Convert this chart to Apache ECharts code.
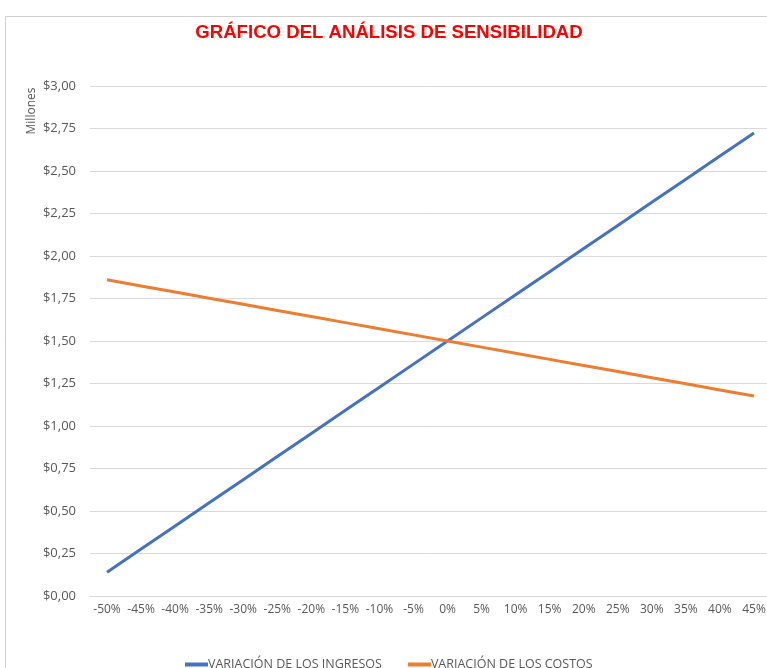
<!DOCTYPE html>
<html>
<head>
<meta charset="utf-8">
<script src="https://cdn.jsdelivr.net/npm/echarts@6/dist/echarts.min.js"></script>
<style>
html,body{margin:0;padding:0;overflow:hidden;background:#fff;}
#chart{width:771px;height:668px;}
</style>
</head>
<body>
<div id="chart"></div>
<script>
const categories = ['-50%','-45%','-40%','-35%','-30%','-25%','-20%','-15%','-10%','-5%','0%','5%','10%','15%','20%','25%','30%','35%','40%','45%'];
const ingresos = [0.140,0.276,0.412,0.548,0.684,0.820,0.956,1.092,1.228,1.364,1.500,1.636,1.772,1.908,2.044,2.180,2.316,2.452,2.588,2.724];
const costos = [1.860,1.824,1.788,1.752,1.716,1.680,1.644,1.608,1.572,1.536,1.500,1.464,1.428,1.392,1.356,1.320,1.284,1.248,1.212,1.176];
const seriesNames = ['VARIACIÓN DE LOS INGRESOS','VARIACIÓN DE LOS COSTOS'];
const titleText = 'GRÁFICO DEL ANÁLISIS DE SENSIBILIDAD';
const unitLabel = 'Millones';

const txtColor = '#595959';
const font = '"Open Sans", sans-serif';
const chart = echarts.init(document.getElementById('chart'));
chart.setOption({
  animation: false,
  backgroundColor: '#fff',
  title: {
    text: titleText,
    left: 384, top: 18, textAlign: 'center',
    textStyle: {color: '#ff0000', fontSize: 18.6, fontWeight: 'bold', fontFamily: '"Liberation Sans Narrow", "Liberation Sans", Arial, sans-serif'}
  },
  graphic: [
    {type: 'rect', shape: {x: 5.5, y: 16.5, width: 900, height: 900}, style: {fill: 'none', stroke: '#d0d0d0', lineWidth: 1}, silent: true, z: -1},
    {type: 'text', x: 32, y: 111, rotation: Math.PI/2, style: {text: unitLabel, fill: txtColor, font: '12px ' + font, align: 'center', verticalAlign: 'middle'}}
  ],
  legend: {
    left: 180, top: 653,
    itemWidth: 23, itemHeight: 4, itemGap: 26,
    icon: 'rect',
    textStyle: {color: txtColor, fontSize: 12.5, fontFamily: font, padding: [0,0,0,-5]},
    data: seriesNames
  },
  grid: {left: 90, right: 0, top: 86, bottom: 72, containLabel: false},
  xAxis: {
    type: 'category', data: categories, boundaryGap: true,
    axisLine: {show: true, lineStyle: {color: '#d9d9d9'}},
    axisTick: {show: false},
    axisLabel: {color: txtColor, fontSize: 12, fontFamily: font, margin: 8, interval: 0}
  },
  yAxis: {
    type: 'value', min: 0, max: 3, interval: 0.25,
    axisLine: {show: false}, axisTick: {show: false},
    splitLine: {lineStyle: {color: '#d9d9d9'}},
    axisLabel: {color: txtColor, fontSize: 13, fontFamily: font, margin: 14,
      formatter: v => '$' + v.toFixed(2).replace('.', ',')}
  },
  series: [
    {name: seriesNames[0], type: 'line', data: ingresos, symbol: 'none', lineStyle: {color: '#4472C4', width: 3}, itemStyle: {color: '#4472C4'}},
    {name: seriesNames[1], type: 'line', data: costos, symbol: 'none', lineStyle: {color: '#ED7D31', width: 3}, itemStyle: {color: '#ED7D31'}}
  ]
});
</script>
</body>
</html>
